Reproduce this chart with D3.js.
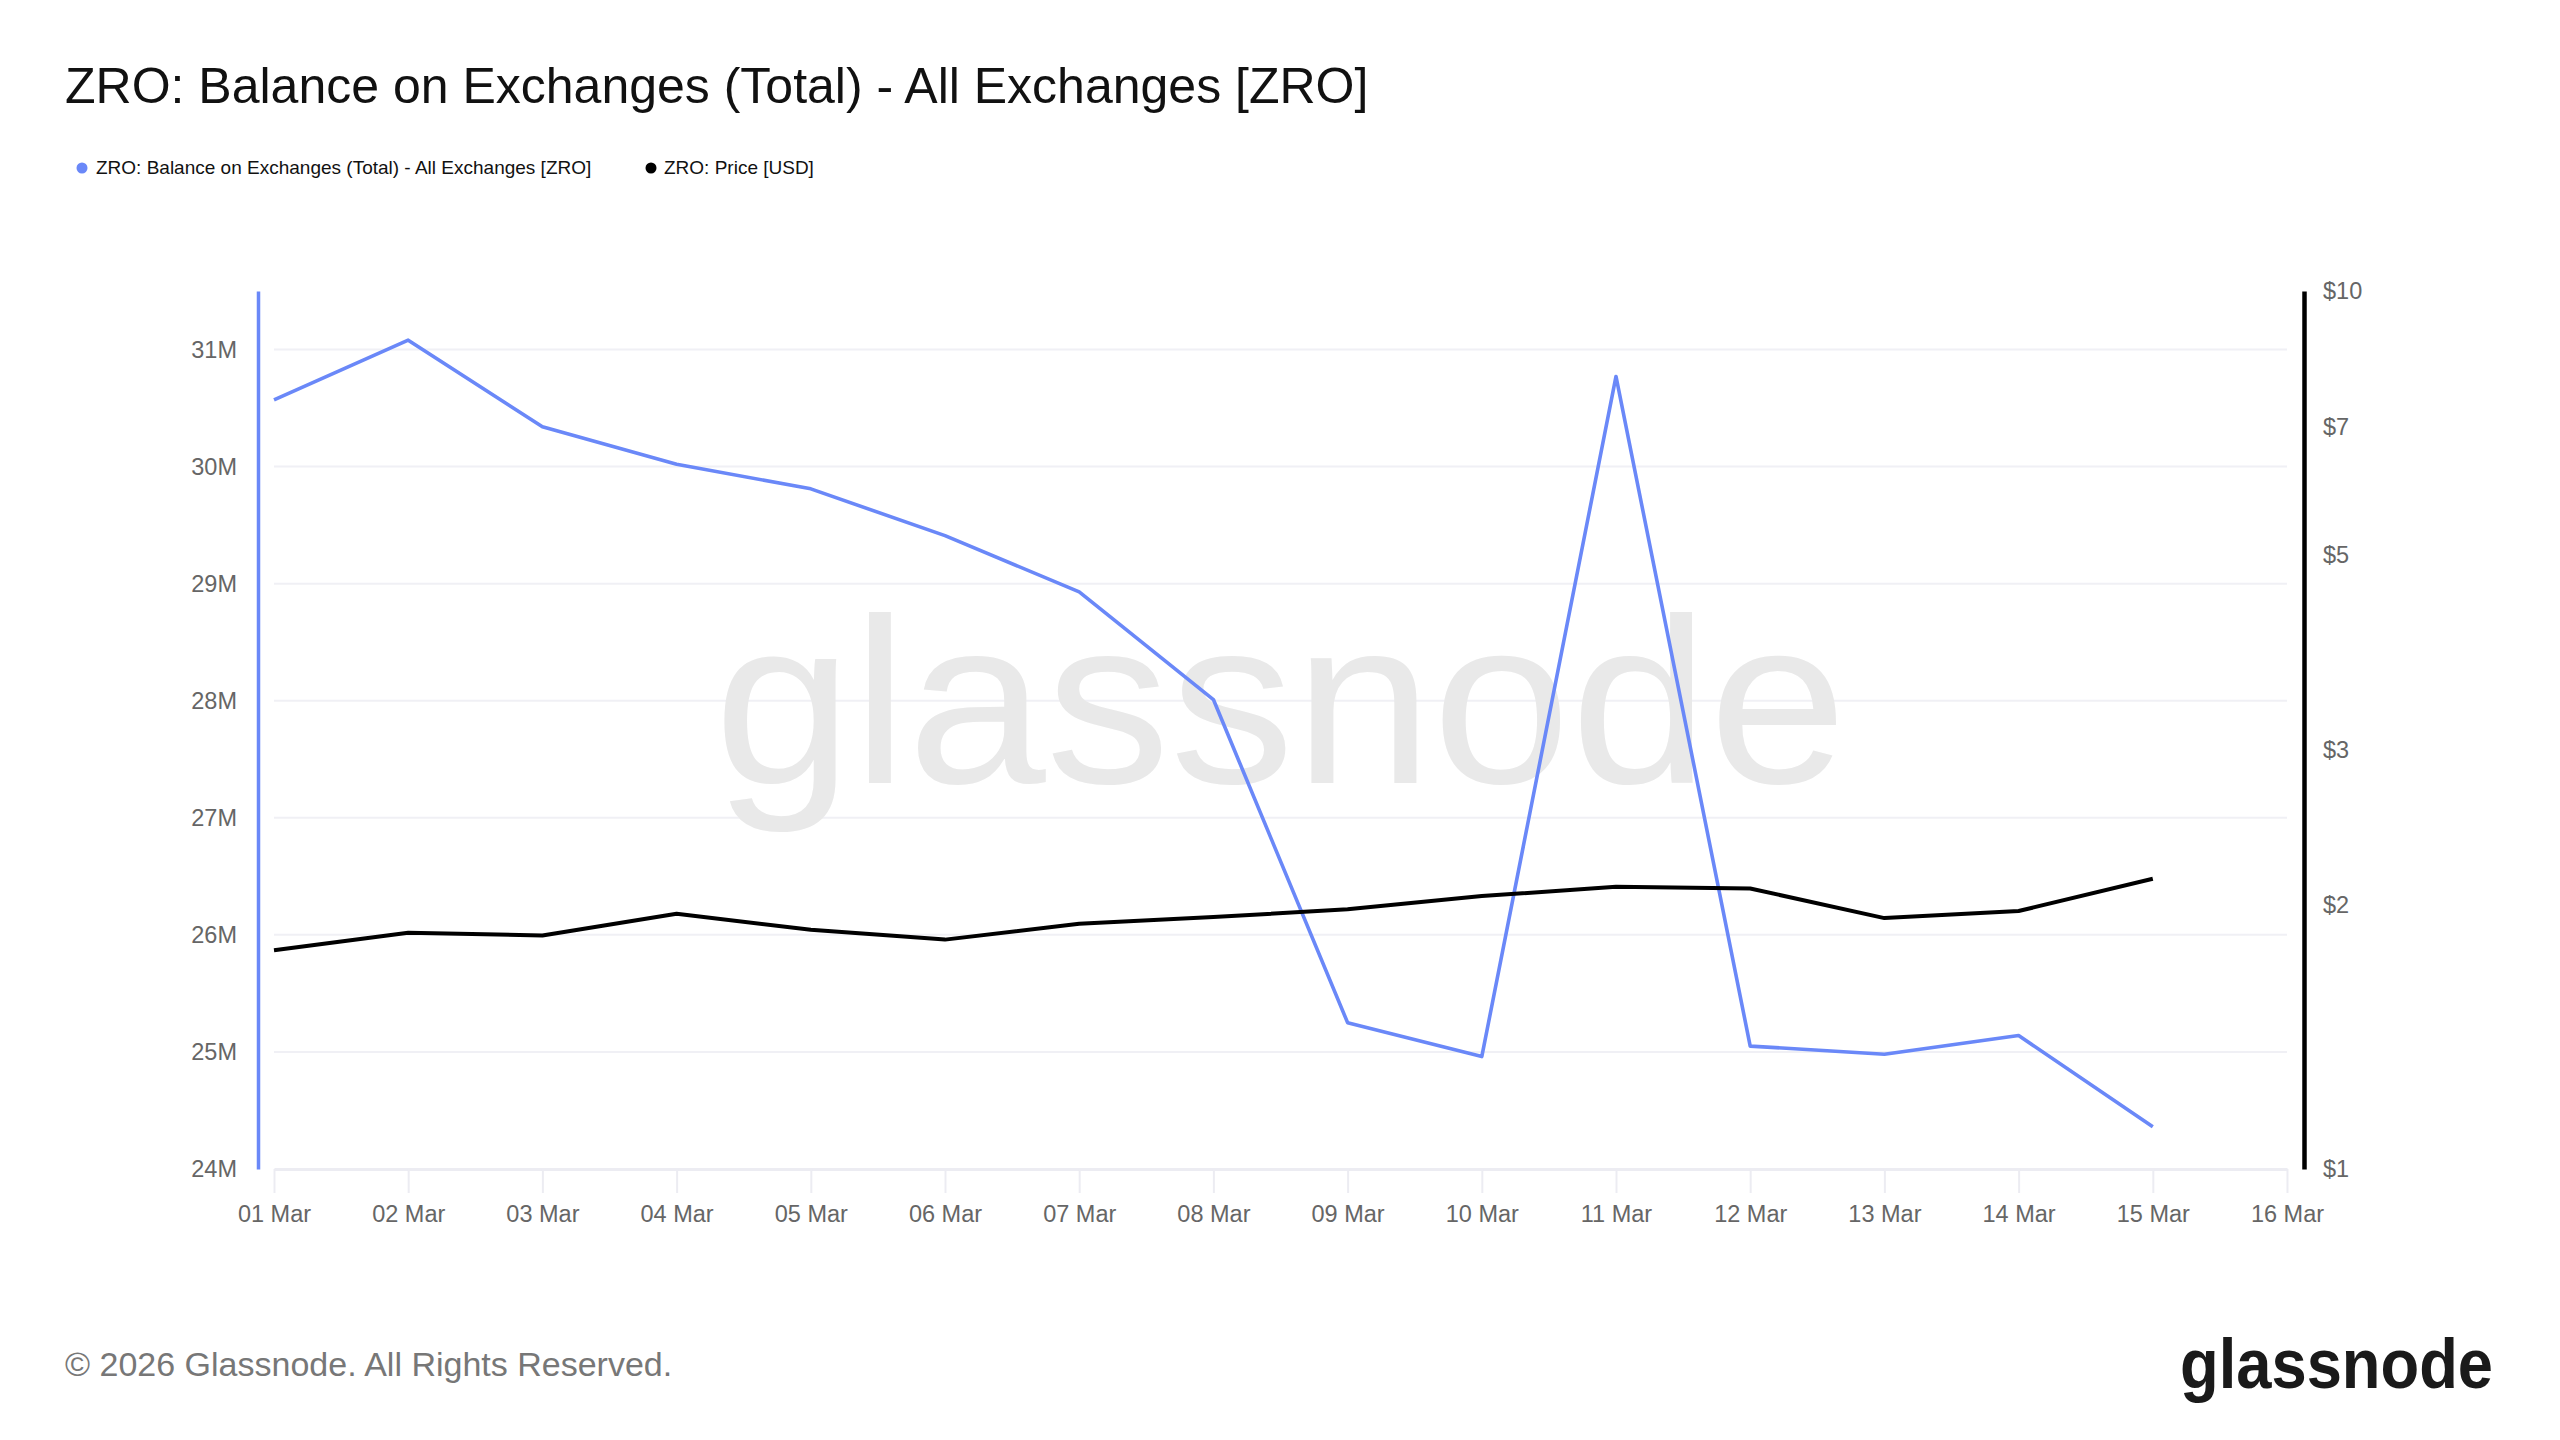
<!DOCTYPE html>
<html lang="en">
  <meta charset="UTF-8" />
  <title>ZRO: Balance on Exchanges</title>
  <style>
    body { margin: 0; background: #fff; }
    svg text { font-family: "Liberation Sans", Arial, sans-serif; }
  </style>
  <script src="https://d3js.org/d3.v7.min.js"></script>
  <body>
    <div id="chart"></div>
    <script>
      // data
      const dates = ["2026-03-01", "2026-03-02", "2026-03-03", "2026-03-04", "2026-03-05",
        "2026-03-06", "2026-03-07", "2026-03-08", "2026-03-09", "2026-03-10",
        "2026-03-11", "2026-03-12", "2026-03-13", "2026-03-14", "2026-03-15"];
      // balance on exchanges, millions of ZRO
      const balance = [30.57, 31.08, 30.34, 30.02, 29.81, 29.41, 28.93, 28.01, 25.25, 24.96,
        30.77, 25.05, 24.98, 25.14, 24.36];
      // price, USD
      const price = [1.775, 1.858, 1.845, 1.953, 1.873, 1.825, 1.903, 1.936, 1.976, 2.046,
        2.096, 2.087, 1.931, 1.967, 2.141];
      const balanceTicks = [24, 25, 26, 27, 28, 29, 30, 31];
      const priceTicks = [1, 2, 3, 5, 7, 10];

      const parse = d3.utcParse("%Y-%m-%d");
      const rows = dates.map((d, i) => ({ date: parse(d), bal: balance[i] * 1e6, price: price[i] }));

      const W = 2560, H = 1440;
      const blue = "#6a88f8";

      const svg = d3.select("#chart").append("svg")
        .attr("width", W).attr("height", H);

      // title + legend
      svg.append("text").attr("x", 65).attr("y", 103)
        .attr("font-size", 50).attr("fill", "#111")
        .text("ZRO: Balance on Exchanges (Total) - All Exchanges [ZRO]");

      const legend = svg.append("g");
      legend.append("circle").attr("cx", 82).attr("cy", 168).attr("r", 5.5).attr("fill", blue);
      legend.append("text").attr("x", 96).attr("y", 174).attr("font-size", 19).attr("fill", "#111")
        .text("ZRO: Balance on Exchanges (Total) - All Exchanges [ZRO]");
      legend.append("circle").attr("cx", 651).attr("cy", 168).attr("r", 5.5).attr("fill", "#000");
      legend.append("text").attr("x", 664).attr("y", 174).attr("font-size", 19).attr("fill", "#111")
        .text("ZRO: Price [USD]");

      // scales
      const x = d3.scaleUtc().domain([parse("2026-03-01"), parse("2026-03-16")]).range([274, 2287]);
      const yL = d3.scaleLinear().domain([24e6, 31.5e6]).range([1169, 291]);
      const yR = d3.scaleLog().domain([1, 10]).range([1169, 291]);

      // gridlines
      svg.append("g").selectAll("line").data(balanceTicks.slice(1)).join("line")
        .attr("x1", 274).attr("x2", 2287)
        .attr("y1", (d) => yL(d * 1e6)).attr("y2", (d) => yL(d * 1e6))
        .attr("stroke", "#f0f0f5").attr("stroke-width", 2);

      // watermark
      svg.append("text").attr("x", 714).attr("y", 783)
        .attr("font-family", "Inter").attr("font-size", 235)
        .attr("textLength", 1133).attr("lengthAdjust", "spacingAndGlyphs")
        .attr("fill", "#e9e9e9").text("glassnode");

      // x axis
      const xAxis = svg.append("g").attr("transform", "translate(0,1169)")
        .call(d3.axisBottom(x).ticks(d3.utcDay.every(1)).tickFormat(d3.utcFormat("%d %b"))
          .tickSize(24).tickPadding(12).tickSizeOuter(0));
      xAxis.select(".domain").attr("stroke", "#ececf2").attr("stroke-width", 3);
      xAxis.selectAll(".tick line").attr("stroke", "#ececf2").attr("stroke-width", 2);
      xAxis.selectAll(".tick text").attr("font-size", 23.5).attr("fill", "#666")
        .attr("font-family", "Liberation Sans, Arial, sans-serif");

      // left axis
      const left = svg.append("g").attr("transform", "translate(258,0)")
        .call(d3.axisLeft(yL).tickValues(balanceTicks.map((d) => d * 1e6))
          .tickFormat((d) => d / 1e6 + "M").tickSize(0).tickPadding(21));
      left.select(".domain").attr("stroke", blue).attr("stroke-width", 3.5);
      left.selectAll(".tick text").attr("font-size", 23.5).attr("fill", "#666")
        .attr("font-family", "Liberation Sans, Arial, sans-serif");

      // right axis
      const right = svg.append("g").attr("transform", "translate(2304,0)")
        .call(d3.axisRight(yR).tickValues(priceTicks)
          .tickFormat((d) => "$" + d).tickSize(0).tickPadding(19));
      right.select(".domain").attr("stroke", "#000").attr("stroke-width", 4.5);
      right.selectAll(".tick text").attr("font-size", 23.5).attr("fill", "#666")
        .attr("font-family", "Liberation Sans, Arial, sans-serif");

      // lines
      const balLine = d3.line().x((d) => x(d.date)).y((d) => yL(d.bal));
      const priceLine = d3.line().x((d) => x(d.date)).y((d) => yR(d.price));

      svg.append("path").datum(rows).attr("d", balLine)
        .attr("fill", "none").attr("stroke", blue).attr("stroke-width", 3.6)
        .attr("stroke-linejoin", "round");
      svg.append("path").datum(rows).attr("d", priceLine)
        .attr("fill", "none").attr("stroke", "#000").attr("stroke-width", 4)
        .attr("stroke-linejoin", "round");

      // footer
      svg.append("text").attr("x", 65).attr("y", 1376)
        .attr("font-size", 34).attr("fill", "#777")
        .text("\u00a9 2026 Glassnode. All Rights Reserved.");
      svg.append("text").attr("x", 2180).attr("y", 1388)
        .attr("font-family", "Inter").attr("font-weight", 600).attr("font-size", 70)
        .attr("textLength", 313).attr("lengthAdjust", "spacingAndGlyphs")
        .attr("fill", "#1a1a1a").text("glassnode");
    </script>
  </body>
</html>
